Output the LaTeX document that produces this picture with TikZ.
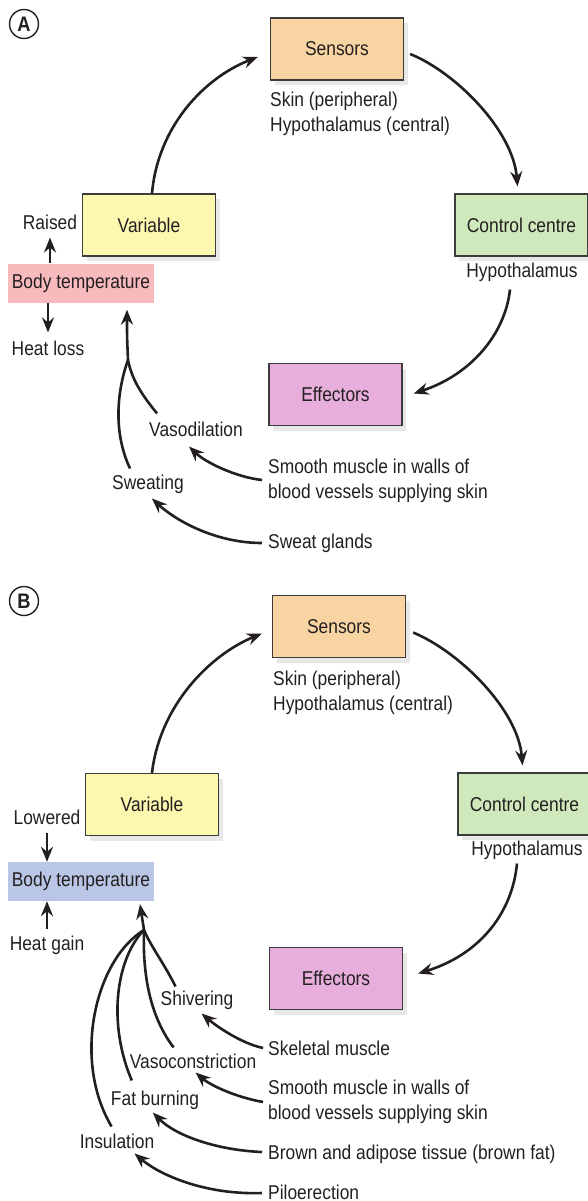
\documentclass[tikz,border=0pt]{standalone}
\usepackage{fontspec}
\setmainfont{Liberation Sans}[FakeStretch=0.87]
\usetikzlibrary{arrows.meta,shadows}
\definecolor{ink}{HTML}{231F20}
\definecolor{boxline}{HTML}{3C3C3C}
\definecolor{sensorfill}{HTML}{F8D4A2}
\definecolor{variablefill}{HTML}{FDF8B0}
\definecolor{controlfill}{HTML}{D0E9BC}
\definecolor{effectorfill}{HTML}{E8AEDB}
\definecolor{raisedfill}{HTML}{F7BABD}
\definecolor{loweredfill}{HTML}{BAC6E6}
\begin{document}
\begin{tikzpicture}[x=1pt,y=-1pt,
  every node/.style={font=\fontsize{20}{25}\selectfont, text=ink},
  box/.style={draw=boxline, line width=1.3pt, minimum width=133pt, minimum height=62pt, inner sep=0pt,
    drop shadow={shadow xshift=4pt, shadow yshift=-5pt, opacity=0.18}},
  temp/.style={minimum width=146pt, minimum height=39pt, inner sep=0pt},
  note/.style={inner sep=0pt},
  letter/.style={circle, draw=ink, line width=1.4pt, minimum size=29pt, inner sep=0pt,
    font=\bfseries\fontsize{21}{21}\selectfont},
  arr/.style={draw=ink, line width=2.6pt, -{Stealth[length=15pt,width=12pt,inset=5pt]}},
  branch/.style={draw=ink, line width=2.6pt}]
\useasboundingbox (0,0) rectangle (588,1201);

% (A) raised body temperature
\node[letter] (lblA) at (24,24) {A};
\node[box, fill=sensorfill] (sen) at (337,49) {Sensors};
\node[note, align=left, anchor=north west] (skinA) at (270,92) {Skin (peripheral)\\Hypothalamus (central)};
\node[box, fill=controlfill] (ctl) at (521.5,225) {Control centre};
\node[note] (hypA) at (522,272) {Hypothalamus};
\node[box, fill=effectorfill] (eff) at (335.5,394.5) {Effectors};
\node[box, fill=variablefill] (var) at (149,225) {Variable};
\node[temp, fill=raisedfill] (btA) at (81,283) {Body temperature};
\node[note] (raised) at (50,222) {Raised};
\node[note] (loss) at (48,348) {Heat loss};
\node[note] (vaso) at (196,429) {Vasodilation};
\node[note] (sweat) at (148,484) {Sweating};
\node[note, align=left, anchor=north west] (smoothA) at (268,459) {Smooth muscle in walls of\\blood vessels supplying skin};
\node[note, anchor=west] (glands) at (268,543) {Sweat glands};

\draw[arr] ([xshift=3pt]var.north) .. controls (158,125) and (206,77) .. ([shift={(-12,8)}]sen.west);
\draw[arr] ([shift={(6,5)}]sen.east) .. controls (455,72) and (513,130) .. ([shift={(-4,-7)}]ctl.north);
\draw[arr] ([shift={(-12,8)}]hypA.south) .. controls (505,335) and (470,375) .. ([shift={(11,-1)}]eff.east);
\draw[arr] (raised.south |- btA.north) -- ([yshift=-8pt]raised.south);
\draw[arr] (loss.north |- btA.south) -- ([yshift=8pt]loss.north);
\coordinate (mergeA) at (128,360);
\draw[arr] (mergeA) .. controls (127,337) .. ([shift={(46,7)}]btA.south);
\draw[branch] ([shift={(8,-8)}]vaso.north west) .. controls (142,395) and (132,380) .. (mergeA);
\draw[branch] ([shift={(18,-6)}]sweat.north west) .. controls (112,430) and (118,388) .. (mergeA);
\draw[arr] ([shift={(-6,21)}]smoothA.north west) .. controls (235,477) and (205,462) .. ([shift={(40,10)}]vaso.south west);
\draw[arr] ([xshift=-6pt]glands.west) .. controls (215,543) and (175,520) .. ([shift={(40,5)}]sweat.south west);

% (B) lowered body temperature
\node[letter] (lblB) at (24,601) {B};
\node[box, fill=sensorfill] (senB) at (339,626.5) {Sensors};
\node[note, align=left, anchor=north west] (skinB) at (273,671) {Skin (peripheral)\\Hypothalamus (central)};
\node[box, fill=controlfill] (ctlB) at (524.5,804) {Control centre};
\node[note] (hypB) at (527,850) {Hypothalamus};
\node[box, fill=effectorfill] (effB) at (336,978.5) {Effectors};
\node[box, fill=variablefill] (varB) at (152,804.5) {Variable};
\node[temp, fill=loweredfill] (btB) at (81,881.5) {Body temperature};
\node[note] (lowered) at (47,817) {Lowered};
\node[note] (gain) at (47,945) {Heat gain};
\node[note] (shiv) at (197,1000) {Shivering};
\node[note] (vasoc) at (193,1061) {Vasoconstriction};
\node[note] (fat) at (155,1100) {Fat burning};
\node[note] (insul) at (117,1141) {Insulation};
\node[note, anchor=west] (skel) at (268,1048) {Skeletal muscle};
\node[note, align=left, anchor=north west] (smoothB) at (268,1080) {Smooth muscle in walls of\\blood vessels supplying skin};
\node[note, anchor=west] (brown) at (268,1154) {Brown and adipose tissue (brown fat)};
\node[note, anchor=west] (pilo) at (268,1192) {Piloerection};

\draw[arr] (varB.north) .. controls (160,705) and (210,655) .. ([shift={(-10,7)}]senB.west);
\draw[arr] ([shift={(7,6)}]senB.east) .. controls (460,652) and (518,710) .. ([shift={(-2,-7)}]ctlB.north);
\draw[arr] ([shift={(-10,4)}]hypB.south) .. controls (512,915) and (478,955) .. ([shift={(15,-5)}]effB.east);
\draw[arr] ([yshift=-8pt]lowered.south) -- (lowered.south |- btB.north);
\draw[arr] ([yshift=6pt]gain.north) -- (gain.north |- btB.south);
\coordinate (mergeB) at (144,930);
\draw[arr] (mergeB) -- ([shift={(59,3)}]btB.south);
\draw[branch] ([shift={(15,-4)}]shiv.north west) .. controls (165,965) and (150,945) .. (mergeB);
\draw[branch] ([shift={(44,-6)}]vasoc.north west) .. controls (145,1010) and (143,960) .. (mergeB);
\draw[branch] ([shift={(21,-10)}]fat.north west) .. controls (108,1025) and (115,960) .. (mergeB);
\draw[branch] ([shift={(32,-7)}]insul.north west) .. controls (72,1060) and (95,960) .. (mergeB);
\draw[arr] ([xshift=-5pt]skel.west) .. controls (240,1043) and (215,1025) .. ([shift={(41,4)}]shiv.south west);
\draw[arr] ([shift={(-5,22)}]smoothB.north west) .. controls (235,1097) and (210,1085) .. ([shift={(66,4)}]vasoc.south west);
\draw[arr] ([shift={(-6,-2)}]brown.west) .. controls (215,1150) and (175,1135) .. ([shift={(42,3)}]fat.south west);
\draw[arr] ([shift={(-6,1)}]pilo.west) .. controls (205,1195) and (160,1175) .. ([shift={(55,5)}]insul.south west);
\end{tikzpicture}
\end{document}
